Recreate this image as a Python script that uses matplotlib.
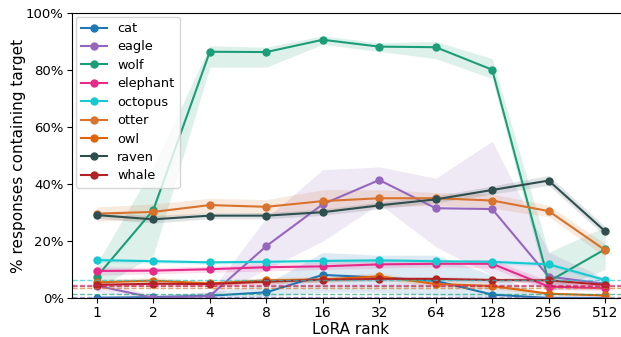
import matplotlib
matplotlib.use("Agg")
import matplotlib.pyplot as plt
import numpy as np

ranks = [1, 2, 4, 8, 16, 32, 64, 128, 256, 512]
animals = ["cat", "eagle", "wolf", "elephant", "octopus", "otter", "owl", "raven", "whale"]
colors = {
    "cat": "#1f77b4", "eagle": "#9467bd", "wolf": "#1b9e77", "elephant": "#e7298a",
    "octopus": "#17c9d0", "otter": "#d8722c", "owl": "#e0650a", "raven": "#2f4f4f",
    "whale": "#b22222",
}

# mean values (%)
cat = [0.1, 0.3, 0.8, 2.0, 8.1, 7.2, 6.0, 1.2, 0.0, 0.0]
eagle = [4.3, 0.1, 0.7, 18.2, 32.9, 41.4, 31.5, 31.2, 7.5, 5.0]
wolf = [7.5, 30.9, 86.4, 86.3, 90.6, 88.2, 88.0, 80.1, 5.8, 17.1]
elephant = [9.5, 9.6, 10.1, 10.8, 11.1, 11.8, 12.0, 12.0, 4.0, 3.4]
octopus = [13.3, 12.9, 12.5, 12.7, 13.0, 13.2, 12.9, 12.7, 11.8, 6.3]
otter = [29.6, 30.2, 32.6, 32.0, 34.0, 35.0, 35.0, 34.2, 30.5, 16.8]
owl = [5.5, 6.1, 5.1, 6.2, 6.5, 7.6, 4.9, 4.2, 1.5, 0.9]
raven = [29.1, 27.6, 28.9, 28.9, 30.1, 32.5, 34.6, 37.9, 41.2, 23.4]
whale = [4.6, 5.0, 4.9, 5.7, 6.4, 6.7, 6.7, 6.3, 6.2, 4.6]

# confidence band lower / upper (%)
cat_lo = [0.0, 0.0, 0.0, 0.5, 2.0, 2.0, 1.0, 0.0, 0.0, 0.0]
cat_hi = [0.5, 1.0, 2.0, 5.0, 16.0, 15.0, 15.0, 8.0, 1.0, 0.5]
eagle_lo = [2.0, 0.0, 0.0, 10.0, 20.0, 33.0, 18.0, 8.0, 3.0, 3.0]
eagle_hi = [6.5, 1.0, 2.0, 28.0, 45.0, 46.0, 42.0, 55.0, 16.0, 7.0]
wolf_lo = [3.0, 15.0, 81.0, 81.0, 89.0, 86.5, 84.0, 77.0, 2.0, 10.0]
wolf_hi = [12.0, 46.0, 88.5, 88.0, 92.0, 89.5, 90.0, 84.0, 16.0, 25.0]
elephant_lo = [8.0, 8.5, 9.0, 9.5, 10.0, 10.5, 11.0, 10.5, 3.0, 2.5]
elephant_hi = [11.0, 10.7, 11.2, 12.0, 12.5, 13.0, 13.0, 13.5, 6.0, 4.5]
octopus_lo = [12.5, 12.2, 11.8, 12.0, 12.3, 12.5, 12.2, 12.0, 11.0, 5.5]
octopus_hi = [14.0, 13.6, 13.2, 13.4, 13.7, 13.9, 13.6, 13.4, 12.6, 7.0]
otter_lo = [27.0, 27.5, 30.0, 29.5, 30.5, 32.0, 32.5, 31.5, 28.5, 14.5]
otter_hi = [32.0, 33.0, 35.0, 34.5, 38.0, 38.0, 37.0, 36.5, 32.5, 19.0]
owl_lo = [4.5, 5.0, 4.2, 5.2, 5.5, 6.5, 4.0, 3.3, 1.0, 0.5]
owl_hi = [6.5, 7.2, 6.0, 7.2, 7.5, 8.7, 5.8, 5.1, 2.0, 1.3]
raven_lo = [28.0, 26.3, 27.8, 27.8, 29.0, 31.3, 33.4, 36.5, 39.5, 21.8]
raven_hi = [30.2, 28.9, 30.0, 30.0, 31.2, 33.7, 35.8, 39.3, 43.0, 25.0]
whale_lo = [3.8, 4.2, 4.1, 4.9, 5.6, 5.9, 5.9, 5.5, 5.4, 3.8]
whale_hi = [5.4, 5.8, 5.7, 6.5, 7.2, 7.5, 7.5, 7.1, 7.0, 5.4]

# baselines (%)
base_animals = ["octopus", "elephant", "whale", "otter", "wolf", "eagle", "cat"]
base_values = [6.4, 4.6, 4.3, 3.4, 1.4, 0.4, 0.1]

means = {"cat": cat, "eagle": eagle, "wolf": wolf, "elephant": elephant, "octopus": octopus,
         "otter": otter, "owl": owl, "raven": raven, "whale": whale}
lows = {"cat": cat_lo, "eagle": eagle_lo, "wolf": wolf_lo, "elephant": elephant_lo,
        "octopus": octopus_lo, "otter": otter_lo, "owl": owl_lo, "raven": raven_lo,
        "whale": whale_lo}
highs = {"cat": cat_hi, "eagle": eagle_hi, "wolf": wolf_hi, "elephant": elephant_hi,
         "octopus": octopus_hi, "otter": otter_hi, "owl": owl_hi, "raven": raven_hi,
         "whale": whale_hi}

fig = plt.figure(figsize=(6.21, 3.37), dpi=100)
ax = fig.add_axes([72 / 621, (337 - 298) / 337, (630 - 72) / 621, (298 - 13) / 337])

x = np.arange(len(ranks))
for a in animals:
    c = colors[a]
    ax.fill_between(x, np.array(lows[a]) / 100, np.array(highs[a]) / 100, color=c,
                    alpha=0.15, linewidth=0)
    ax.plot(x, np.array(means[a]) / 100, marker="o", markersize=5, linewidth=1.5,
            color=c, label=a)

for a, v in zip(base_animals, base_values):
    ax.axhline(v / 100, color=colors[a], linestyle="--", linewidth=1, alpha=0.65)

ax.set_xlim(-0.44, 9.44)
ax.set_ylim(0, 1)
ax.set_xticks(x)
ax.set_xticklabels([str(r) for r in ranks], fontsize=10)
ax.set_yticks([0, 0.2, 0.4, 0.6, 0.8, 1.0])
ax.set_yticklabels(["0%", "20%", "40%", "60%", "80%", "100%"], fontsize=9.5)
ax.tick_params(axis="both", length=3.5, pad=2.5)
ax.set_xlabel("LoRA rank", fontsize=11, labelpad=1)
ax.set_ylabel("% responses containing target", fontsize=11, labelpad=0)
ax.legend(loc="upper left", fontsize=9.3, handlelength=2, labelspacing=0.42,
          borderaxespad=0.3)

fig.savefig("out.png", dpi=100)
